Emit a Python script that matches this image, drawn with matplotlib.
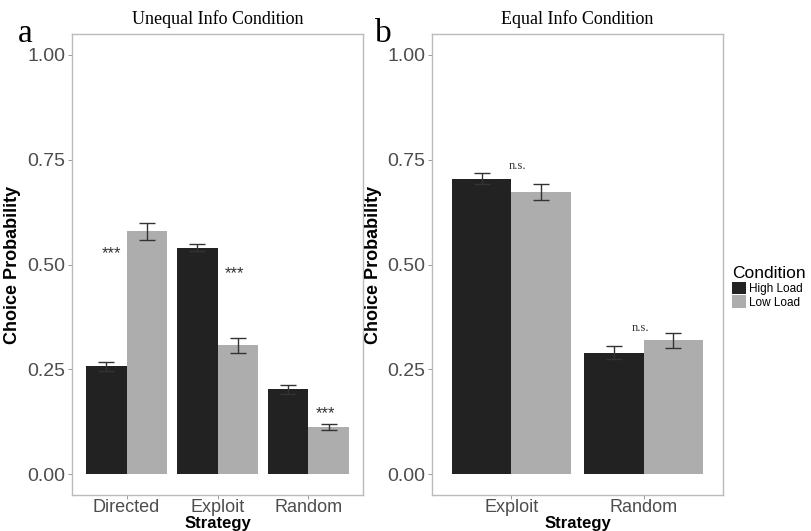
import matplotlib
matplotlib.use("Agg")
from matplotlib import pyplot as plt
from matplotlib.patches import Patch
import numpy as np

# panel a: unequal info condition
strategies_a = ['Directed', 'Exploit', 'Random']
high_a = [0.257, 0.540, 0.202]
high_a_err = [0.010, 0.008, 0.010]
low_a = [0.579, 0.307, 0.112]
low_a_err = [0.021, 0.017, 0.008]
sig_a = ['***', '***', '***']
sig_a_x = [0.83, 2.19, 3.19]
sig_a_y = [0.515, 0.468, 0.133]

# panel b: equal info condition
strategies_b = ['Exploit', 'Random']
high_b = [0.705, 0.290]
high_b_err = [0.014, 0.016]
low_b = [0.674, 0.319]
low_b_err = [0.019, 0.018]
sig_b = ['n.s.', 'n.s.']
sig_b_x = [1.05, 1.98]
sig_b_y = [0.728, 0.342]

yticks = [0.00, 0.25, 0.50, 0.75, 1.00]

dark = '#222222'
light = '#adadad'
sans = ['Liberation Sans Narrow', 'Liberation Sans', 'DejaVu Sans']
serif = ['Liberation Serif', 'DejaVu Serif']

fig = plt.figure(figsize=(8.11, 5.31), dpi=100)
ax_a = fig.add_axes([72/811, 36/531, 291/811, 461/531])
ax_b = fig.add_axes([432/811, 36/531, 291/811, 461/531])


def draw_panel(ax, cats, hi, hi_e, lo, lo_e, sig, sx, sy, title):
    x = np.arange(1, len(cats) + 1)
    w = 0.45
    ax.bar(x - w/2, hi, width=w, color=dark, zorder=2)
    ax.bar(x + w/2, lo, width=w, color=light, zorder=2)
    ax.errorbar(x - w/2, hi, yerr=hi_e, fmt='none', ecolor='#333333',
                elinewidth=1, capsize=6, capthick=1, zorder=3)
    ax.errorbar(x + w/2, lo, yerr=lo_e, fmt='none', ecolor='#333333',
                elinewidth=1, capsize=6, capthick=1, zorder=3)
    for s, xx, yy in zip(sig, sx, sy):
        if s == '***':
            ax.text(xx, yy, s, ha='center', va='baseline', fontsize=12,
                    family=['Liberation Sans', 'DejaVu Sans'], color='#333333')
        else:
            ax.text(xx, yy, s, ha='center', va='baseline', fontsize=9,
                    family=serif, color='#333333')
    ax.set_xlim(0.4, len(cats) + 0.6)
    ax.set_ylim(-0.05, 1.05)
    ax.set_xticks(x)
    ax.set_xticklabels(cats, family=sans, fontsize=13, color='#4d4d4d')
    ax.set_yticks(yticks)
    ax.set_yticklabels(['%.2f' % v for v in yticks], family=sans,
                       fontsize=14, color='#4d4d4d')
    ax.tick_params(length=3, width=0.6, color='#888888', pad=2)
    ax.tick_params(axis='x', pad=0)
    for sp in ax.spines.values():
        sp.set_color('#bbbbbb')
        sp.set_linewidth(1.0)
    ax.set_xlabel('Strategy', fontweight='bold', fontsize=12,
                  family=['Liberation Sans', 'DejaVu Sans'])
    ax.xaxis.set_label_coords(0.5, -0.046)
    ax.set_ylabel('Choice Probability', fontweight='bold', fontsize=13,
                  family=['Liberation Sans', 'DejaVu Sans'], labelpad=4)
    ax.set_title(title, family=serif, fontsize=13, pad=7)


draw_panel(ax_a, strategies_a, high_a, high_a_err, low_a, low_a_err,
           sig_a, sig_a_x, sig_a_y, 'Unequal Info Condition')
draw_panel(ax_b, strategies_b, high_b, high_b_err, low_b, low_b_err,
           sig_b, sig_b_x, sig_b_y, 'Equal Info Condition')

fig.text(18/811, 1 - 42/531, 'a', family=serif, fontsize=24)
fig.text(375/811, 1 - 42/531, 'b', family=serif, fontsize=24)

handles = [Patch(facecolor=dark, label='High Load'),
           Patch(facecolor=light, label='Low Load')]
leg = fig.legend(handles=handles, title='Condition', loc='upper left',
                 bbox_to_anchor=(724/811, 1 - 258/531), frameon=False,
                 prop={'family': ['Liberation Sans', 'DejaVu Sans'], 'size': 8.5},
                 handlelength=1.2, handleheight=1.2, handletextpad=0.2,
                 labelspacing=0.05, borderpad=0.2)
leg.get_title().set_fontsize(12.5)
leg.get_title().set_family(['Liberation Sans', 'DejaVu Sans'])
leg._legend_box.align = 'left'

fig.savefig('out.png', dpi=100)
